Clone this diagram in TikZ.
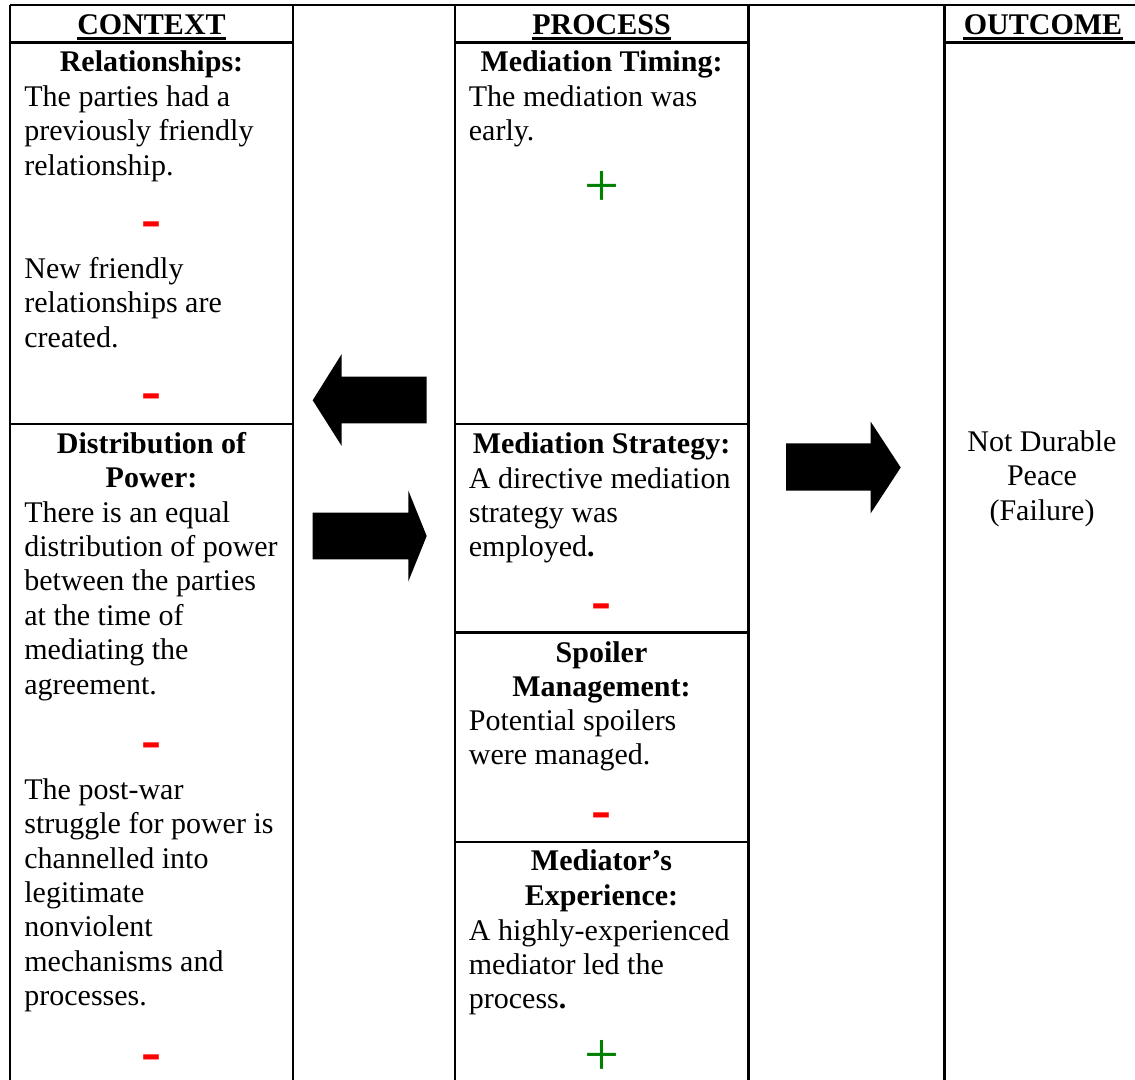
\documentclass[tikz,border=0pt]{standalone}
\usepackage{fontspec}
\setmainfont{Liberation Serif}
\usepackage{tikz}

\begin{document}
\begin{tikzpicture}[x=0.5pt,y=-0.5pt,
  rule/.style={line width=1.25pt},
  head/.style={anchor=base, inner sep=0pt, font=\fontsize{15}{17.2}\selectfont\bfseries},
  title/.style={anchor=base, inner sep=0pt, align=flush center, text width=#1, font=\fontsize{15}{17.2}\selectfont\bfseries},
  body/.style={anchor=base west, inner sep=0pt, align=flush left, text width=150pt, font=\fontsize{15}{17.2}\selectfont},
  minus/.style={anchor=base, inner sep=0pt, text=red, font=\fontsize{30}{30}\selectfont\bfseries},
  plus/.style={anchor=base, inner sep=0pt, text=green!50!black, font=\fontsize{31}{31}\selectfont}]
\useasboundingbox (0,0) rectangle (1135,1080);
% init-table
\draw[rule] (10,5) -- (1135,5);
\foreach \x in {10,293,455,748.5,944.5}
  \draw[rule] (\x,5) -- (\x,1080);
\draw[rule] (10,42.5) -- (293,42.5);
\draw[rule] (455,42.5) -- (748.5,42.5);
\draw[rule] (944.5,42.5) -- (1135,42.5);
\draw[rule] (10,424) -- (293,424);
\foreach \y in {424,632.5,842}
  \draw[rule] (455,\y) -- (748.5,\y);
% headers
\node[head] (ctxHead) at (151.5,35) {CONTEXT};
\node[head] (procHead) at (601.5,35) {PROCESS};
\node[head] (outHead) at (1043,35) {OUTCOME};
\foreach \h in {ctxHead,procHead,outHead}
  \draw[line width=1.35pt] ([yshift=-1.85pt]\h.base west) -- ([yshift=-1.85pt]\h.base east);
% context
\node[title=140pt] (relTitle) at (151.5,72) {Relationships:};
\node[body] (relText) at (24,106.5) {The parties had a\\previously friendly\\relationship.};
\node[minus] (relMinus) at (151.5,239) {-};
\node[body] (relNew) at (24,278.5) {New friendly\\relationships are\\created.};
\node[minus] (relMinusB) at (151.5,411) {-};
\node[title=140pt] (powTitle) at (151.5,453.3) {Distribution of\\Power:};
\node[body] (powText) at (24,522) {There is an equal\\distribution of power\\between the parties\\at the time of\\mediating the\\agreement.};
\node[minus] (powMinus) at (151.5,759) {-};
\node[body] (powPost) at (24,799.3) {The post-war\\struggle for power is\\channelled into\\legitimate\\nonviolent\\mechanisms and\\processes.};
\node[minus] (powMinusB) at (151.5,1071.4) {-};
% process
\node[title=145pt] (timTitle) at (601.5,71.7) {Mediation Timing:};
\node[body] (timText) at (468.5,106.5) {The mediation was\\early.};
\node[plus] (timPlus) at (601.5,207) {+};
\node[title=145pt] (strTitle) at (601.5,453.3) {Mediation Strategy:};
\node[body] (strText) at (468.5,488) {A directive mediation\\strategy was\\employed\textbf{.}};
\node[minus] (strMinus) at (601.5,620) {-};
\node[title=145pt] (spoTitle) at (601.5,662.3) {Spoiler\\Management:};
\node[body] (spoText) at (468.5,730.5) {Potential spoilers\\were managed.};
\node[minus] (spoMinus) at (601.5,829) {-};
\node[title=145pt] (expTitle) at (601.5,870.7) {Mediator’s\\Experience:};
\node[body] (expText) at (468.5,940) {A highly-experienced\\mediator led the\\process\textbf{.}};
\node[plus] (expPlus) at (601.5,1075) {+};
% outcome
\node[anchor=base, inner sep=0pt, align=flush center, text width=95pt, font=\fontsize{15}{17.2}\selectfont] (outText) at (1042,451.5) {Not Durable\\Peace\\(Failure)};
% draw arrows
\fill (426.7,376.7) -- (341.7,376.7) -- (341.7,354) -- (312.7,400.3) -- (341.7,446) -- (341.7,423.3) -- (426.7,423.3) -- cycle;
\fill (312.7,512.7) -- (408.3,512.7) -- (408.3,490.5) -- (426.7,536) -- (408.3,581.5) -- (408.3,559.3) -- (312.7,559.3) -- cycle;
\fill (786,443.3) -- (870.7,443.3) -- (870.7,421.7) -- (900.7,467.5) -- (870.7,513.3) -- (870.7,490.7) -- (786,490.7) -- cycle;
\end{tikzpicture}
\end{document}
